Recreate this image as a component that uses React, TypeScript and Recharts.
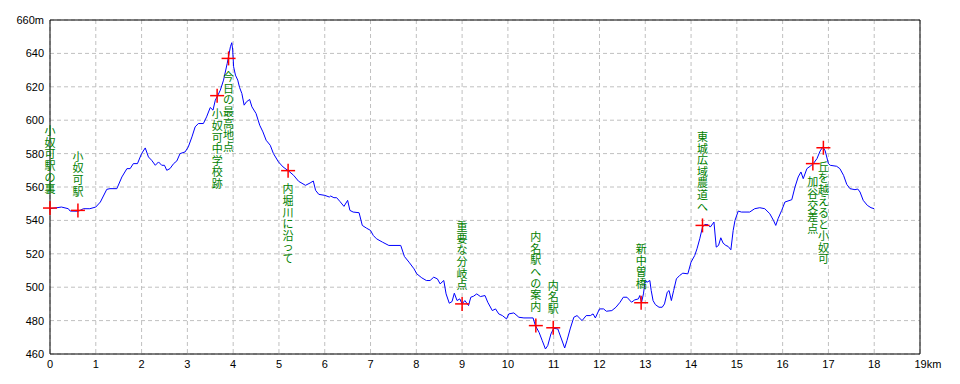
import React from "react";
import {
  ComposedChart,
  Line,
  Scatter,
  XAxis,
  YAxis,
  CartesianGrid,
  ReferenceLine,
} from "recharts";

// distance along the route (km) and elevation (m)
const distKm = [
  0, 0.15, 0.25, 0.4, 0.44, 0.62, 0.73, 0.87, 1.0, 1.1, 1.24, 1.31, 1.46, 1.57, 1.68, 1.75, 1.82, 1.91,
  2.0, 2.08, 2.15, 2.22, 2.3, 2.37, 2.44, 2.5, 2.55, 2.62, 2.7, 2.77, 2.84, 2.95, 3.02, 3.1, 3.17, 3.24,
  3.35, 3.42, 3.5, 3.56, 3.61, 3.66, 3.72, 3.79, 3.87, 3.94, 3.97, 3.99, 4.01, 4.05, 4.1, 4.14, 4.19,
  4.24, 4.29, 4.36, 4.41, 4.5, 4.58, 4.65, 4.72, 4.81, 4.88, 4.99, 5.09, 5.21, 5.32, 5.43, 5.58, 5.68,
  5.75, 5.8, 5.87, 6.0, 6.1, 6.13, 6.2, 6.26, 6.33, 6.42, 6.5, 6.55, 6.62, 6.75, 6.82, 6.91, 7.0, 7.06,
  7.13, 7.26, 7.4, 7.66, 7.74, 7.84, 7.95, 8.01, 8.12, 8.22, 8.3, 8.38, 8.46, 8.52, 8.6, 8.65, 8.72,
  8.78, 8.83, 8.89, 8.95, 9.0, 9.06, 9.14, 9.19, 9.25, 9.32, 9.4, 9.5, 9.56, 9.66, 9.73, 9.8, 9.88,
  9.97, 10.02, 10.13, 10.24, 10.35, 10.55, 10.6, 10.68, 10.75, 10.82, 10.87, 10.94, 11.0, 11.09, 11.17,
  11.24, 11.29, 11.36, 11.44, 11.51, 11.62, 11.71, 11.8, 11.86, 11.91, 12.0, 12.09, 12.15, 12.27,
  12.36, 12.45, 12.52, 12.6, 12.7, 12.77, 12.85, 12.88, 12.92, 12.96, 13.0, 13.04, 13.1, 13.13, 13.17,
  13.22, 13.3, 13.37, 13.42, 13.48, 13.52, 13.57, 13.62, 13.68, 13.75, 13.82, 13.93, 14.0, 14.08,
  14.13, 14.19, 14.25, 14.3, 14.37, 14.42, 14.5, 14.55, 14.6, 14.65, 14.7, 14.76, 14.81, 14.87, 14.92,
  14.96, 15.03, 15.1, 15.28, 15.39, 15.5, 15.61, 15.72, 15.8, 15.85, 15.9, 15.98, 16.05, 16.2, 16.27,
  16.34, 16.4, 16.45, 16.53, 16.6, 16.67, 16.75, 16.82, 16.88, 16.93, 17.0, 17.04, 17.18, 17.25, 17.33,
  17.4, 17.47, 17.58, 17.64, 17.69, 17.76, 17.85, 17.93, 18.0,
];

const elevM = [
  547, 547.6, 548, 547, 545.6, 545.5, 547, 547, 548, 551, 558.6, 559, 559, 566, 571, 571, 574, 574,
  580, 583.4, 578, 576, 573, 575, 573, 573, 570, 571, 574, 575.6, 580, 581, 584, 590, 596, 598,
  598, 602, 607.6, 606, 612, 614.6, 618, 624, 634, 644, 646.4, 642, 632, 627, 624, 619.6, 616,
  609, 611, 612.4, 608, 604, 597, 593, 588, 585, 580, 575, 572, 569.6, 567, 563.4, 561, 562.4,
  563.6, 558, 555.6, 555, 554, 554.6, 553.6, 553.6, 551.4, 548.4, 552, 546, 545, 544.6, 537, 535.4, 534, 531,
  529, 527, 525, 525, 518.4, 515, 511, 508, 505.6, 504, 504, 506, 505, 502, 504, 496, 490.4,
  491.4, 496.4, 492, 493, 490, 492, 489, 494, 494.6, 496, 494.4, 495, 491, 486, 487, 484, 483,
  481, 484, 484.6, 482, 481.6, 481.6, 477, 473, 468, 463, 465, 472, 475.4, 475, 469,
  463.6, 468, 475, 482, 483, 480, 483, 483, 484, 481.6, 487, 487, 485.6, 486,
  488, 491, 494, 494, 491, 492.4, 493, 495, 491, 496, 504, 503, 504, 498, 492,
  489.6, 488, 488, 490, 497, 498, 492, 498, 505, 507, 508.4, 508, 515, 519,
  523, 529, 536, 537.6, 537.4, 536, 539, 524, 525, 529.6, 526.4, 525, 524.4, 522.4, 534,
  540, 545.6, 545, 545, 547, 547.6, 547, 544, 540, 537, 541, 546, 551, 552.4, 560,
  566, 569, 565, 571, 572.4, 574, 577, 581.6, 584, 581.6, 574, 573, 572.4, 571, 567,
  561.6, 559, 558.4, 558.8, 557, 552, 549, 547.6, 547,
];

// waypoints
const pointNames = [
  "小奴可駅の裏",
  "小奴可駅",
  "小奴可中学校跡",
  "今日の最高地点",
  "内堀川に沿って",
  "重要な分岐点",
  "内名駅への案内",
  "内名駅",
  "新中曽橋",
  "東城広域農道へ",
  "加谷交差点",
  "丘を越えると小奴可",
];
const pointKm = [0, 0.61, 3.65, 3.9, 5.2, 9.0, 10.61, 10.99, 12.91, 14.25, 16.66, 16.89];
const pointElev = [547.4, 546, 614.7, 637, 569.8, 490, 477, 475.7, 490.7, 537, 574, 583.5];
const pointBelow = [false, false, true, true, true, false, false, false, false, false, true, true];

const kmTicks = Array.from({ length: 20 }, (_, i) => i);
const mTicks = [460, 480, 500, 520, 540, 560, 580, 600, 620, 640, 660];

const profile = distKm.map((km, i) => ({ km, elev: elevM[i] }));
const waypoints = pointNames.map((name, i) => ({
  name,
  km: pointKm[i],
  elev: pointElev[i],
  below: pointBelow[i],
}));

const STEP = 11.6;

// stacked one-char-per-line label + red cross
function Waypoint(props: any) {
  const { cx, cy, payload } = props;
  if (cx == null || cy == null) return null;
  const chars = Array.from(payload.name as string);
  const firstCenter = payload.below
    ? cy + 12 + STEP / 2
    : cy - 14 - STEP / 2 - (chars.length - 1) * STEP;
  return (
    <g>
      {chars.map((c, i) => (
        <text
          key={i}
          x={cx}
          y={firstCenter + i * STEP}
          textAnchor="middle"
          dominantBaseline="central"
          fill="#008000"
          fontSize={11}
          fontFamily="'Noto Sans CJK JP', sans-serif"
        >
          {c}
        </text>
      ))}
      <line x1={cx - 7} x2={cx + 7} y1={cy} y2={cy} stroke="#ff0000" strokeWidth={1.5} />
      <line x1={cx} x2={cx} y1={cy - 7} y2={cy + 7} stroke="#ff0000" strokeWidth={1.5} />
    </g>
  );
}

function KmTick(props: any) {
  const { x, y, payload } = props;
  const last = payload.value === 19;
  return (
    <text
      x={last ? x - 5.5 : x}
      y={y + 8}
      textAnchor={last ? "start" : "middle"}
      fontSize={11}
      fill="#000"
      fontFamily="'Liberation Sans', sans-serif"
    >
      {last ? "19km" : payload.value}
    </text>
  );
}

function MTick(props: any) {
  const { x, y, payload } = props;
  return (
    <text
      x={x}
      y={y}
      textAnchor="end"
      dominantBaseline="central"
      fontSize={11}
      fill="#000"
      fontFamily="'Liberation Sans', sans-serif"
    >
      {payload.value === 660 ? "660m" : payload.value}
    </text>
  );
}

export default function App() {
  return (
    <div style={{ width: 952, height: 376, background: "#fff" }}>
      <ComposedChart
        width={952}
        height={376}
        data={profile}
        margin={{ top: 12, right: 40, bottom: 10, left: 4 }}
      >
        <CartesianGrid stroke="#c0c0c0" strokeDasharray="4 3" />
        <XAxis
          type="number"
          dataKey="km"
          domain={[0, 19]}
          ticks={kmTicks}
          interval={0}
          height={20}
          tickSize={0}
          tickMargin={6}
          tick={<KmTick />}
          axisLine={{ stroke: "#000" }}
        />
        <YAxis
          type="number"
          domain={[460, 660]}
          ticks={mTicks}
          interval={0}
          width={38}
          tickSize={0}
          tickMargin={6}
          tick={<MTick />}
          axisLine={{ stroke: "#000" }}
        />
        <ReferenceLine y={660} stroke="#000" />
        <ReferenceLine x={19} stroke="#000" />
        <Line
          type="linear"
          dataKey="elev"
          stroke="#0000ff"
          strokeWidth={1}
          dot={false}
          isAnimationActive={false}
        />
        <Scatter
          data={waypoints}
          dataKey="elev"
          shape={<Waypoint />}
          isAnimationActive={false}
        />
      </ComposedChart>
    </div>
  );
}
